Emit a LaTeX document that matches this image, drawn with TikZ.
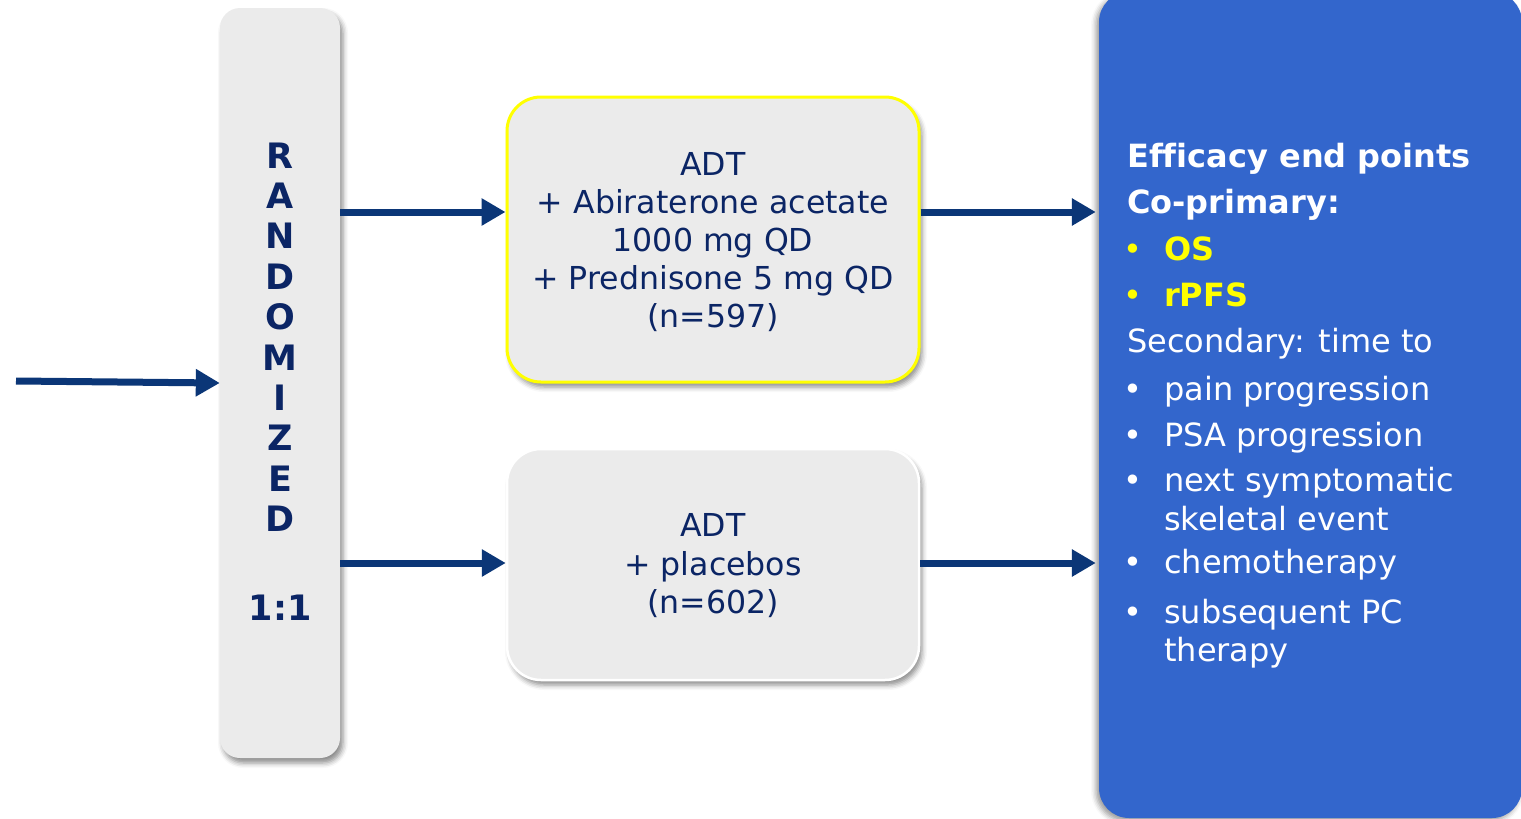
\documentclass[tikz,border=0pt]{standalone}
\usepackage{fontspec}
\setmainfont{DejaVu Sans}[Ligatures=NoCommon]
\usetikzlibrary{arrows.meta,shadows.blur}

\definecolor{navy}{HTML}{0B2565}
\definecolor{arrowblue}{HTML}{0B3677}
\definecolor{boxgray}{HTML}{EBEBEB}
\definecolor{panelblue}{HTML}{3366CC}
\definecolor{hilite}{HTML}{FFFF00}

\begin{document}
\begin{tikzpicture}[x=1pt,y=-1pt,
  flow/.style={draw=arrowblue, line width=7pt,
    -{Triangle[length=24pt,width=26pt]}},
  softshadow/.style={blur shadow={shadow xshift=3pt, shadow yshift=-5pt,
    shadow blur radius=5pt, shadow opacity=45}},
  randbox/.style={rounded corners=20pt, fill=boxgray, minimum width=120pt,
    minimum height=750pt, inner sep=0pt, softshadow},
  armbox/.style={rounded corners=34pt, fill=boxgray, minimum width=412pt,
    inner sep=0pt, softshadow},
  panel/.style={rounded corners=30pt, fill=panelblue, minimum width=423pt,
    minimum height=826pt, inner sep=0pt,
    blur shadow={shadow xshift=-3pt, shadow yshift=-3pt,
      shadow blur radius=5pt, shadow opacity=40}},
  randletter/.style={anchor=base, inner sep=0pt, text=navy,
    font=\fontsize{35}{40}\selectfont\bfseries},
  armtext/.style={anchor=base, inner sep=0pt, text=navy,
    font=\fontsize{31.6}{38}\selectfont},
  endtext/.style={anchor=base west, inner sep=0pt, text=white,
    font=\fontsize{32}{38}\selectfont},
  endbold/.style={endtext, font=\fontsize{32}{38}\selectfont\bfseries},
  keybold/.style={endbold, text=hilite},
  dot/.style={endtext},
  keydot/.style={endtext, text=hilite}
]
\useasboundingbox (0,0) rectangle (1521,819);

% randomisation column
\node[randbox] (rand) at (280,383) {};
\foreach \ch [count=\i] in {R,A,N,D,O,M,I,Z,E,D}
  \node[randletter] (ltr-\i) at (280,{168+(\i-1)*40.4}) {\ch};
\node[randletter] (ratio) at (280,620.5) {1:1};

% treatment arms
\node[armbox, draw=hilite, line width=3pt, minimum height=285pt]
  (armA) at (713,239.5) {};
\foreach \yy/\tx [count=\i] in {175/ADT, 213.3/{+ Abiraterone acetate},
    251/{1000 mg QD}, 289/{+ Prednisone 5 mg QD}, 327/{(n=597)}}
  \node[armtext] (armA-\i) at (713,\yy) {\tx};

\node[armbox, draw=white, line width=2.5pt, minimum height=231pt]
  (armB) at (713,564.5) {};
\foreach \yy/\tx [count=\i] in {536/ADT, 575/{+ placebos}, 613/{(n=602)}}
  \node[armtext] (armB-\i) at (713,\yy) {\tx};

% end points panel
\node[panel] (ends) at (1310.5,405) {};
\node[endbold] (ep-title) at (1127,167.3) {Efficacy end points};
\node[endbold] (ep-co) at (1127,213) {Co-primary:};
\node[keydot] (b-os) at (1123,260.7) {•};
\node[keybold] (ep-os) at (1164,260.7) {OS};
\node[keydot] (b-rpfs) at (1123,306.7) {•};
\node[keybold] (ep-rpfs) at (1164,306.7) {rPFS};
\node[endtext] (ep-sec) at (1127,352.7) {Secondary: time to};
\foreach \yy/\tx [count=\i] in {400.7/{pain progression},
    446/{PSA progression}, 491.7/{next symptomatic},
    573.3/{chemotherapy}, 623.3/{subsequent PC}} {
  \node[dot] (b-sec-\i) at (1123,\yy) {•};
  \node[endtext] (ep-sec-\i) at (1164,\yy) {\tx};
}
\node[endtext] (ep-sec-3b) at (1164,530.7) {skeletal event};
\node[endtext] (ep-sec-5b) at (1164,661.7) {therapy};

% connectors
\coordinate (entry) at (16,381);
\coordinate (rowA) at (0,212);
\coordinate (rowB) at (0,563);
\draw[flow] (entry) -- (rand.west);
\draw[flow] (rand.east |- rowA) -- (armA.west |- rowA);
\draw[flow] (rand.east |- rowB) -- (armB.west |- rowB);
\draw[flow, shorten >=3pt] (armA.east |- rowA) -- (ends.west |- rowA);
\draw[flow, shorten >=3pt] (armB.east |- rowB) -- (ends.west |- rowB);
\end{tikzpicture}
\end{document}
